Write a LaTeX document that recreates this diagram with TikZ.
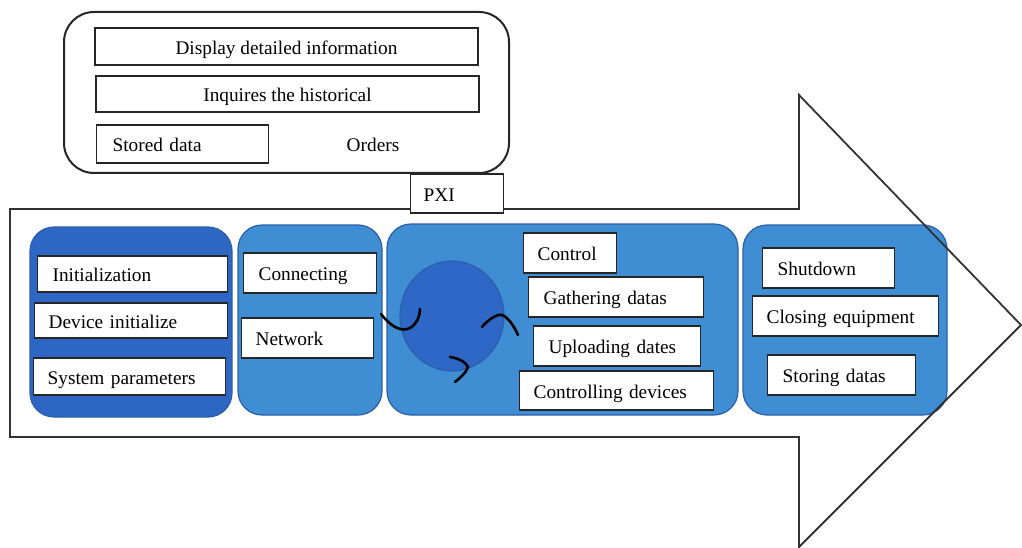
\documentclass[tikz,border=0pt]{standalone}
\usepackage{fontspec}
\setmainfont{Liberation Serif}
\newcommand\wbx[7]{%
  \pgfmathsetmacro\tw{#3-#2-2*#6}%
  \pgfmathsetmacro\ym{(#4+#5)/2}%
  \pgfmathsetmacro\hh{#5-#4}%
  \node[wb,text width=\tw pt,inner xsep=#6pt,minimum height=\hh pt] (#1) at (#2,\ym) {#7};}
\newcommand\cbx[6]{%
  \pgfmathsetmacro\ww{#3-#2}%
  \pgfmathsetmacro\xm{(#2+#3)/2}%
  \pgfmathsetmacro\ym{(#4+#5)/2}%
  \pgfmathsetmacro\hh{#5-#4}%
  \node[cb,minimum width=\ww pt,minimum height=\hh pt] (#1) at (\xm,\ym) {#6};}
\definecolor{darkblue}{HTML}{2E66C3}
\definecolor{midblue}{HTML}{3F8DD3}
\definecolor{edgeblue}{HTML}{2D5FA8}
\definecolor{circblue}{HTML}{2E67C5}
\begin{document}
\begin{tikzpicture}[x=1pt,y=-1pt,
  every node/.style={font=\fontsize{19.3}{22}\selectfont,text height=18.5pt,text depth=3pt},
  wb/.style={draw=black!85,fill=white,line width=1.3pt,anchor=west,align=left,inner ysep=0pt},
  cb/.style={draw=black!85,fill=white,line width=1.3pt,inner sep=0pt},
  arrowline/.style={draw=black!80,line width=1.8pt,line join=miter},
  panel/.style={draw=edgeblue,line width=1.2pt,rounded corners=24pt},
  swoosh/.style={draw=black,line width=2.6pt,line cap=round}]
\useasboundingbox (0,0) rectangle (1022,548);
% big arrow (fill)
\fill[white] (10,209) -- (799,209) -- (799,95) -- (1021,325) -- (799,547) -- (799,437) -- (10,437) -- cycle;
% panels
\draw[panel,fill=darkblue] (30,227) rectangle (232,417);
\draw[panel,fill=midblue] (238,225) rectangle (382,415);
\draw[panel,fill=midblue] (387,224) rectangle (738,415);
\draw[panel,fill=midblue] (743,225) rectangle (947,415);
% arrow outline
\draw[arrowline] (10,209) -- (799,209) -- (799,95) -- (1021,325) -- (799,547) -- (799,437) -- (10,437) -- cycle;
% circle
\draw[draw=edgeblue,line width=1.2pt,fill=circblue] (452,316) ellipse [x radius=52, y radius=55];
% panel 1
\wbx{init}{37}{227}{256}{292}{15}{Initialization}
\wbx{devinit}{34}{227}{303}{338}{14}{Device initialize}
\wbx{syspar}{33}{225}{358}{395}{14}{System parameters}
% panel 2
\wbx{conn}{243}{376}{253}{293}{15}{Connecting}
\wbx{net}{241}{373}{318}{358}{14}{Network}
% panel 3
\wbx{ctrl}{523}{616}{233}{273}{14}{Control}
\wbx{gath}{528}{703}{277}{317}{15}{Gathering datas}
\wbx{upl}{533}{700}{326}{366}{15}{Uploading dates}
\wbx{cdev}{519}{713}{371}{410}{14}{Controlling devices}
% panel 4
\wbx{shut}{762}{894}{248}{288}{15}{Shutdown}
\wbx{close}{752}{938}{296}{336}{14}{Closing equipment}
\wbx{store}{767}{915}{355}{395}{15}{Storing datas}
% cycle marks
\draw[swoosh] (381,314) .. controls (392,328) and (402,332) .. (410,328) .. controls (417,324) and (420,316) .. (420,309);
\draw[swoosh] (482,327) .. controls (488,320) and (496,314) .. (502,315) .. controls (508,317) and (514,326) .. (518,335);
\draw[swoosh] (450,357) .. controls (458,358) and (466,362) .. (468,367) .. controls (466,373) and (460,378) .. (455,382);
% top panel
\draw[draw=black!85,line width=2pt,rounded corners=30pt] (64,12) rectangle (509,173);
\cbx{disp}{95}{478}{28}{65}{Display detailed information}
\cbx{inq}{96}{479}{76}{112}{Inquires the historical}
\wbx{stored}{96}{268}{125}{163}{16}{Stored data}
\node (orders) at (373,144) {Orders};
\wbx{pxi}{410}{503}{174}{213}{13}{PXI}
\end{tikzpicture}
\end{document}
